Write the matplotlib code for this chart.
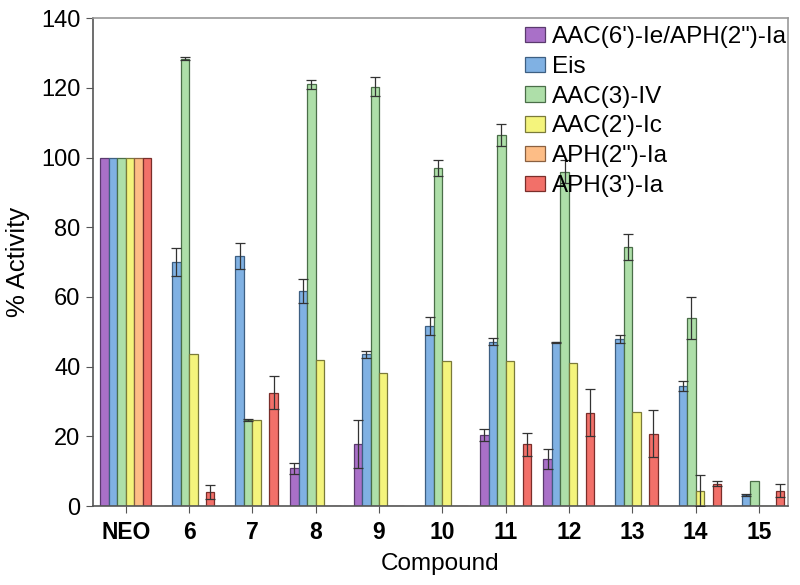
"""
Enzyme activity of aminoglycoside-modifying enzymes per compound
"""
import matplotlib
matplotlib.use("Agg")
import matplotlib.pyplot as plt
import numpy as np

plt.rcParams['font.family'] = ['Liberation Sans', 'DejaVu Sans']

compounds = ['NEO', '6', '7', '8', '9', '10', '11', '12', '13', '14', '15']
enzymes = ['AAC(6\')-Ie/APH(2")-Ia', 'Eis', 'AAC(3)-IV', 'AAC(2\')-Ic',
           'APH(2")-Ia', 'APH(3\')-Ia']

# % activity per enzyme (0 = no bar drawn)
aac6_aph2 = [100, 0, 0, 10.8, 17.8, 0, 20.4, 13.5, 0, 0, 0]
eis = [100, 69.9, 71.8, 61.7, 43.5, 51.6, 47.2, 47.0, 47.9, 34.5, 3.1]
aac3 = [100, 128.4, 24.7, 121.0, 120.3, 97.1, 106.4, 95.9, 74.4, 54.0, 7.2]
aac2 = [100, 43.5, 24.7, 41.9, 38.1, 41.5, 41.5, 40.9, 26.9, 4.4, 0]
aph2 = [100, 0, 0, 0, 0, 0, 0, 0, 0, 0, 0]
aph3 = [100, 4.1, 32.5, 0, 0, 0, 17.7, 26.8, 20.8, 6.4, 4.4]

# error bars (0 = none)
aac6_aph2_err = [0, 0, 0, 1.6, 6.9, 0, 1.6, 3.0, 0, 0, 0]
eis_err = [0, 4.0, 3.8, 3.4, 1.1, 2.5, 0.9, 0.2, 1.2, 1.5, 0.3]
aac3_err = [0, 0.5, 0.4, 1.2, 2.7, 2.3, 3.1, 3.3, 3.8, 6.0, 0]
aac2_err = [0, 0, 0, 0, 0, 0, 0, 0, 0, 4.4, 0]
aph2_err = [0, 0, 0, 0, 0, 0, 0, 0, 0, 0, 0]
aph3_err = [0, 2.0, 4.8, 0, 0, 0, 3.3, 6.7, 6.7, 0.7, 1.9]

series = [aac6_aph2, eis, aac3, aac2, aph2, aph3]
errors = [aac6_aph2_err, eis_err, aac3_err, aac2_err, aph2_err, aph3_err]
colors = ['#A970C8', '#80B1E3', '#AEDFA9', '#F4F47C', '#FDBD86', '#F27069']
edges = ['#5a3a6e', '#3d5f82', '#4a6e48', '#7a7a3a', '#8a6040', '#7a2e2a']

fig = plt.figure(figsize=(8, 5.85), dpi=100)
ax = fig.add_axes([0.116, 0.135, 0.869, 0.834])

x = np.arange(len(compounds))
width = 0.134
for i, (vals, errs) in enumerate(zip(series, errors)):
    pos = x + (i - 2.5) * width
    vals = np.array(vals, dtype=float)
    errs = np.array(errs, dtype=float)
    ax.bar(pos, vals, width, color=colors[i], edgecolor=edges[i],
           linewidth=0.9, label=enzymes[i], zorder=2)
    mask = errs > 0
    ax.errorbar(pos[mask], vals[mask], yerr=errs[mask], fmt='none',
                ecolor='#333333', elinewidth=0.9, capsize=3.5,
                capthick=0.9, zorder=3)

ax.set_xlim(-0.52, 10.46)
ax.set_ylim(0, 140)
ax.set_yticks(np.arange(0, 141, 20))
ax.set_xticks(x)
ax.set_xticklabels(compounds, fontsize=16.5, fontweight='bold')
ax.tick_params(axis='y', labelsize=17, direction='out', length=5,
               color='#555555', pad=4)
ax.tick_params(axis='x', direction='out', length=5, color='#555555', pad=6)

for side in ['left', 'bottom']:
    ax.spines[side].set_color('#555555')
    ax.spines[side].set_linewidth(1.2)
for side in ['top', 'right']:
    ax.spines[side].set_color('#9a9a9a')
    ax.spines[side].set_linewidth(1.2)

ax.set_xlabel('Compound', fontsize=17.5, labelpad=6)
ax.set_ylabel('% Activity', fontsize=18.5, labelpad=8)

ax.legend(loc='upper right', bbox_to_anchor=(1.01, 1.0), frameon=False,
          fontsize=17.5, handlelength=0.8, handleheight=0.6,
          handletextpad=0.3, labelspacing=0.32, borderpad=0.2,
          borderaxespad=0.13)

fig.savefig('out.png', dpi=100)
